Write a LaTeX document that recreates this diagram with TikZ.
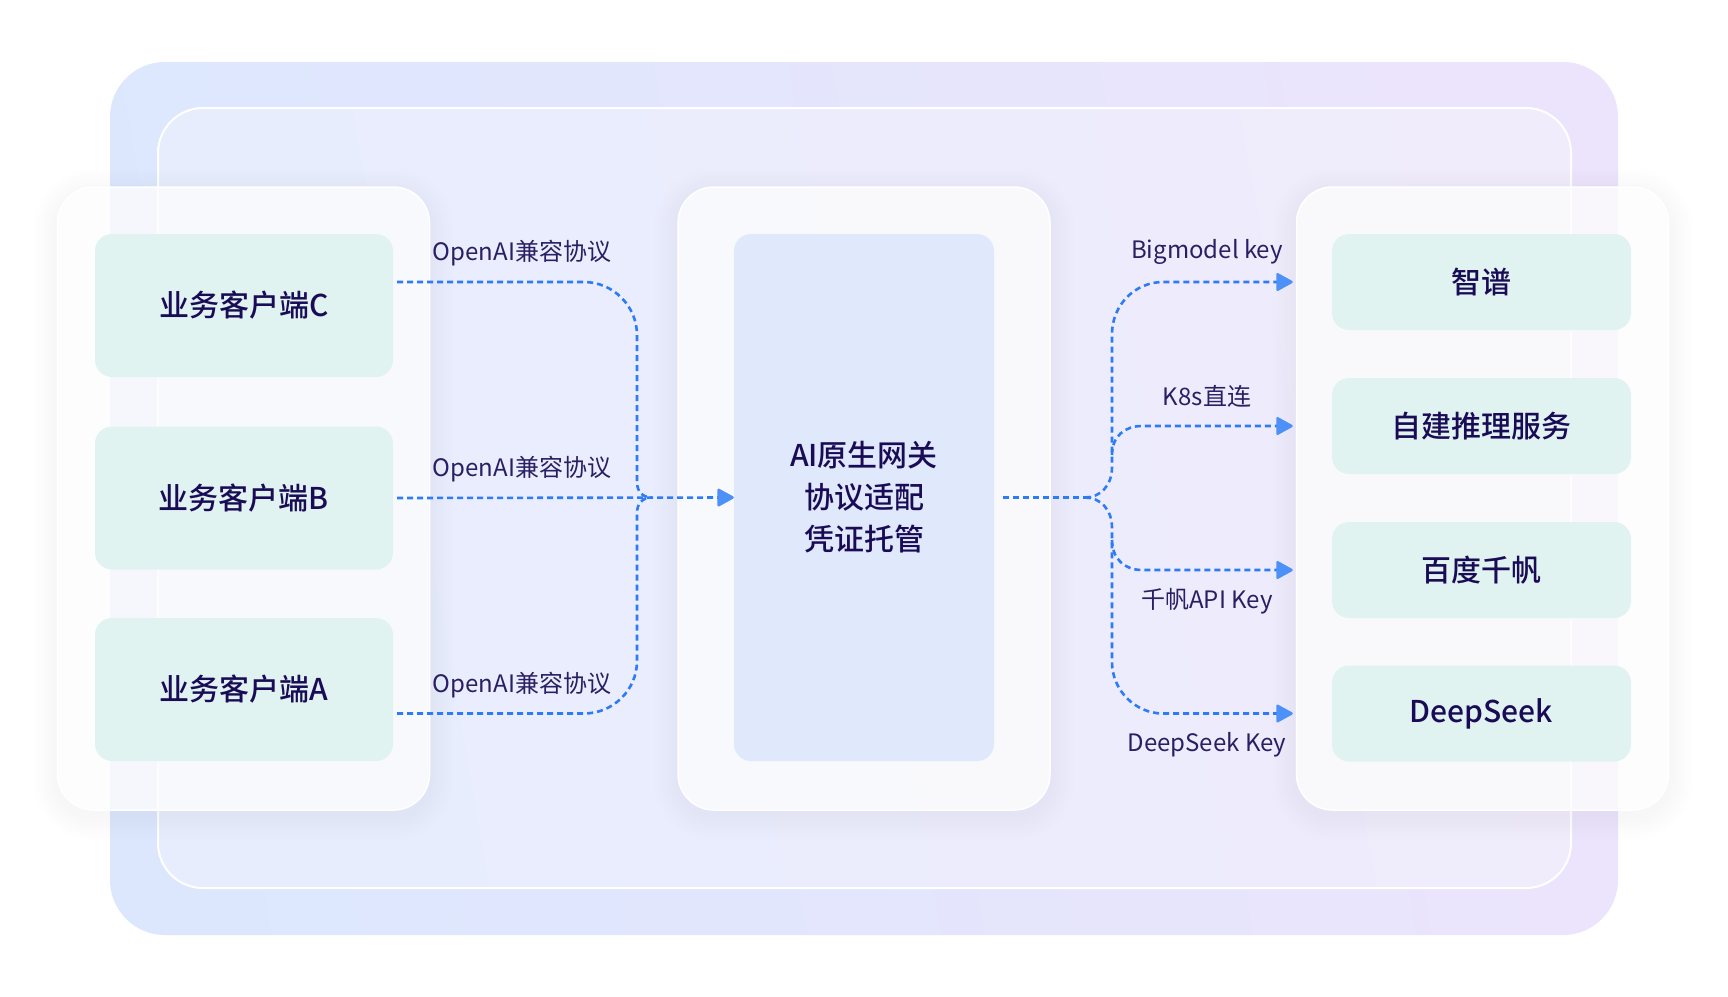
\documentclass[tikz,border=0pt]{standalone}
\usepackage{fontspec}
\setmainfont{Noto Sans CJK SC}
\newfontfamily\medfont{Noto Sans CJK SC Medium}
\usetikzlibrary{arrows.meta,calc}
\definecolor{outerA}{HTML}{DCE7FD}
\definecolor{outerB}{HTML}{ECE4FC}
\definecolor{innerA}{HTML}{E7EDFD}
\definecolor{innerB}{HTML}{F0ECFC}
\definecolor{mint}{HTML}{E0F3F0}
\definecolor{gwfill}{HTML}{E0E9FC}
\definecolor{darktext}{HTML}{1A0B56}
\definecolor{lbltext}{HTML}{2A1F62}
\definecolor{linec}{HTML}{2E7BF6}
\definecolor{arrowc}{HTML}{4D91F8}
\definecolor{shadowc}{HTML}{A8B2E0}
\begin{document}
\begin{tikzpicture}[x=1pt,y=-1pt,
  panel/.style={draw=white, line width=1.5pt, fill=white, fill opacity=0.78,
    rounded corners=36pt, minimum width=372pt, minimum height=623pt, inner sep=0pt},
  mintbox/.style={fill=mint, rounded corners=17pt, inner sep=0pt, text=darktext,
    font=\medfont\fontsize{30}{36}\selectfont},
  clientbox/.style={mintbox, minimum width=298pt, minimum height=143pt},
  svcbox/.style={mintbox, minimum width=299pt, minimum height=96pt},
  gwbox/.style={fill=gwfill, rounded corners=17pt, inner sep=0pt, text=darktext,
    minimum width=260pt, minimum height=527pt, align=center,
    font=\medfont\fontsize{30}{42}\selectfont},
  lbl/.style={text=lbltext, inner sep=0pt, font=\fontsize{24}{28}\selectfont},
  conn/.style={draw=linec, line width=2.6pt, dash pattern=on 6pt off 4pt},
  arr/.style={conn, -{Triangle[length=18pt,width=19pt,round,color=arrowc]}}
]
\useasboundingbox (0,0) rectangle (1728,996);
\fill[white] (0,0) rectangle (1728,996);

% background frames
\shade[rounded corners=55pt, left color=outerA, right color=outerB, shading angle=100]
  (110,62) rectangle (1618,935);
\shade[rounded corners=45pt, left color=innerA, right color=innerB, shading angle=100]
  (158,108) rectangle (1571,888);
\draw[white, line width=2pt, rounded corners=45pt] (158,108) rectangle (1571,888);

% panel shadows
\foreach \cx in {243.5,864,1482.5}{
  \foreach \s in {3,6,...,24}{
    \fill[shadowc, fill opacity=0.008, rounded corners=36pt+\s pt]
      (\cx-186-\s,187-\s+6) rectangle (\cx+186+\s,810+\s+6);
  }
}
\node[panel] (pl) at (243.5,498.5) {};
\node[panel] (pm) at (864,498.5) {};
\node[panel] (pr) at (1482.5,498.5) {};

% boxes
\node[clientbox] (cc) at (244,305.5) {业务客户端C};
\node[clientbox] (cb) at (244,498) {业务客户端B};
\node[clientbox] (ca) at (244,689.5) {业务客户端A};

\node[gwbox] (gw) at (864,497.5) {AI原生网关\\协议适配\\凭证托管};

\node[svcbox] (s1) at (1481.5,282) {智谱};
\node[svcbox] (s2) at (1481.5,426) {自建推理服务};
\node[svcbox] (s3) at (1481.5,570) {百度千帆};
\node[svcbox] (s4) at (1481.5,713.5) {DeepSeek};

% connector endpoints
\coordinate (lcs) at ($(cc.east |- s1.center)+(4,0)$);
\coordinate (lbs) at ($(cb.east)+(4,0)$);
\coordinate (las) at ($(ca.east |- s4.center)+(4,0)$);
\coordinate (lmerge) at (652,497.5);
\coordinate (rs) at ($(gw.east)+(9,0)$);
\coordinate (rj) at (1085,497.5);
\coordinate (e1) at ($(pr.west |- s1.center)+(-3,0)$);
\coordinate (e2) at ($(pr.west |- s2.center)+(-3,0)$);
\coordinate (e3) at ($(pr.west |- s3.center)+(-3,0)$);
\coordinate (e4) at ($(pr.west |- s4.center)+(-3,0)$);

% left connectors
\draw[conn] (lcs) -- (584,282) .. controls (613,282) and (637,306) .. (637,335)
  -- (637,482) .. controls (637,491) and (642,497.5) .. (lmerge);
\draw[conn] (las) -- (584,713.5) .. controls (613,713.5) and (637,690) .. (637,661)
  -- (637,513) .. controls (637,504) and (642,497.5) .. (lmerge);
\draw[arr] (lbs) -- (gw.west);

% right connectors
\draw[conn] (rs) -- (rj);
\draw[arr] (rj) .. controls (1100,497.5) and (1112,486) .. (1112,467)
  -- (1112,334) .. controls (1112,305) and (1135,282) .. (1163,282) -- (e1);
\draw[arr] (1112,455) .. controls (1112,436) and (1125,426) .. (1142,426) -- (e2);
\draw[arr] (1112,540) .. controls (1112,559) and (1125,570) .. (1142,570) -- (e3);
\draw[arr] (rj) .. controls (1100,497.5) and (1112,509) .. (1112,528)
  -- (1112,662) .. controls (1112,690) and (1135,713.5) .. (1163,713.5) -- (e4);

% labels
\node[lbl] (t1) at (522,253) {OpenAI兼容协议};
\node[lbl] (t2) at (522,469) {OpenAI兼容协议};
\node[lbl] (t3) at (522,685) {OpenAI兼容协议};
\node[lbl] (t4) at (1207,252) {Bigmodel key};
\node[lbl] (t5) at (1207,396) {K8s直连};
\node[lbl] (t6) at (1207,601) {千帆API Key};
\node[lbl] (t7) at (1207,745) {DeepSeek Key};
\end{tikzpicture}
\end{document}
